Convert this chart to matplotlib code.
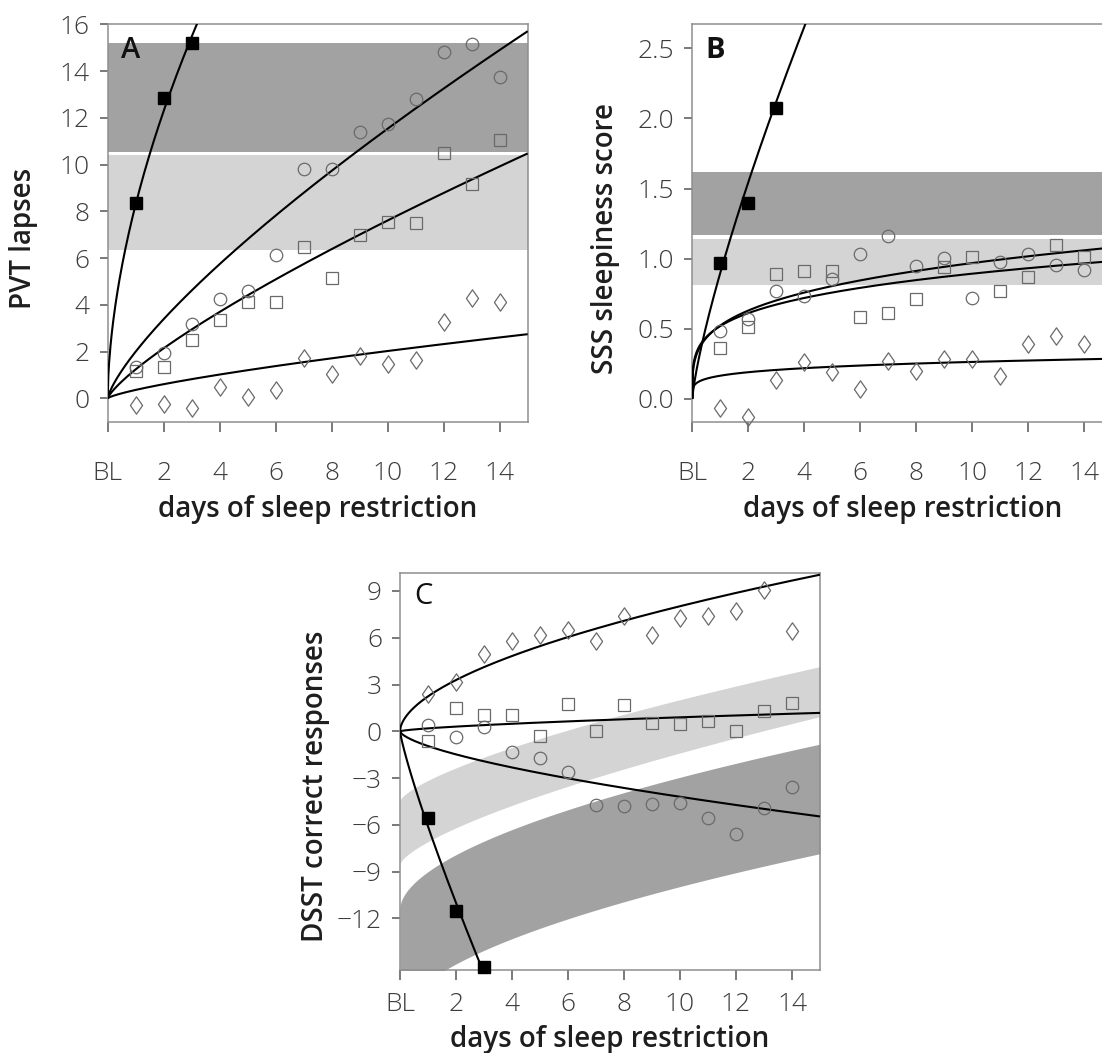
import numpy as np
import matplotlib
matplotlib.use("Agg")
import matplotlib.pyplot as plt
from matplotlib.path import Path

plt.rcParams['font.family'] = ['Open Sans', 'DejaVu Sans']

# ---------------------------------------------------------------- data
days = np.arange(1, 15)          # restriction days 1..14
tsd_days = np.array([1, 2, 3])   # total sleep deprivation days
tick_days = [0, 2, 4, 6, 8, 10, 12, 14]
tick_day_labels = ['BL', '2', '4', '6', '8', '10', '12', '14']

# Panel A: PVT lapses
pvt_4h = [1.35, 1.93, 3.18, 4.25, 4.58, 6.12, 9.80, 9.80, 11.39, 11.75, 12.81, 14.83, 15.17, 13.75]
pvt_6h = [1.17, 1.32, 2.51, 3.35, 4.11, 4.11, 6.48, 5.14, 6.98, 7.55, 7.51, 10.49, 9.17, 11.03]
pvt_8h = [-0.29, -0.26, -0.40, 0.49, 0.07, 0.34, 1.72, 1.06, 1.79, 1.46, 1.65, 3.25, 4.28, 4.14]
pvt_tsd = [8.34, 12.86, 15.2]
# fitted curves y = a * t**b  (4h, 6h, 8h, TSD)
pvt_fit_a = [2.0, 1.24, 0.36, 8.3]
pvt_fit_b = [0.761, 0.788, 0.75, 0.567]
pvt_band_dark = (10.55, 15.2)
pvt_band_light = (6.33, 10.42)
pvt_yticks = [0, 2, 4, 6, 8, 10, 12, 14, 16]

# Panel B: SSS sleepiness
sss_4h = [0.487, 0.57, 0.772, 0.737, 0.855, 1.034, 1.16, 0.946, 1.005, 0.718, 0.974, 1.034, 0.955, 0.92]
sss_6h = [0.361, 0.511, 0.891, 0.915, 0.915, 0.587, 0.613, 0.713, 0.939, 1.015, 0.772, 0.867, 1.098, 1.015]
sss_8h = [-0.064, -0.131, 0.138, 0.261, 0.19, 0.071, 0.273, 0.197, 0.285, 0.285, 0.162, 0.392, 0.447, 0.392]
sss_tsd = [0.97, 1.395, 2.072]
sss_fit_a = [0.524, 0.52, 0.166, 0.90]
sss_fit_b = [0.267, 0.235, 0.202, 0.78]
sss_band_dark = (1.169, 1.616)
sss_band_light = (0.813, 1.141)
sss_yticks = [0.0, 0.5, 1.0, 1.5, 2.0, 2.5]

# Panel C: DSST correct responses
dsst_4h = [0.41, -0.39, 0.26, -1.33, -1.7, -2.61, -4.7, -4.78, -4.63, -4.57, -5.54, -6.59, -4.89, -3.59]
dsst_6h = [-0.61, 1.52, 1.07, 1.07, -0.28, 1.74, 0.0, 1.67, 0.54, 0.48, 0.63, 0.04, 1.3, 1.83]
dsst_8h = [2.39, 3.13, 4.98, 5.76, 6.2, 6.52, 5.8, 7.37, 6.17, 7.26, 7.39, 7.7, 9.07, 6.46]
dsst_tsd = [-5.54, -11.5, -15.13]
dsst_fit_a = [-0.944, 0.19, 2.24, -6.1]
dsst_fit_b = [0.648, 0.675, 0.554, 0.85]
# curved bands: edge = c + k * t**p   (upper edge, lower edge)
dsst_band_light = [(-4.44, 1.29, 0.7), (-8.49, 1.417, 0.7)]
dsst_band_dark = [(-11.3, 2.3, 0.56), (-18.4, 2.38, 0.55)]
dsst_yticks = [-12, -9, -6, -3, 0, 3, 6, 9]

# ---------------------------------------------------------------- style
W, H = 1102, 1053
DARK = '#a2a2a2'
LIGHT = '#d4d4d4'
OPEN = '#6a6a6a'
SPINE = '#8e8e8e'
TICKC = '#3c3c3c'
TICK_FS = 19
LABEL_FS = 20

diamond = Path([(0, 1), (0.7, 0), (0, -1), (-0.7, 0), (0, 1)],
               [Path.MOVETO, Path.LINETO, Path.LINETO, Path.LINETO, Path.CLOSEPOLY])

fig = plt.figure(figsize=(W / 100, H / 100), dpi=100)


def make_axes(left, top, ylim, yticks, yfmt, xpad):
    ax = fig.add_axes([left / W, 1 - (top + 397.4) / H, 420 / W, 397.4 / H])
    ax.set_xlim(0, 15)
    ax.set_ylim(*ylim)
    for s in ax.spines.values():
        s.set_color(SPINE)
        s.set_linewidth(1.1)
    ax.set_xticks(tick_days)
    ax.set_xticklabels(tick_day_labels, fontweight='light')
    ax.set_yticks(yticks)
    ax.set_yticklabels([yfmt(v) for v in yticks], fontweight='light')
    ax.tick_params(axis='x', direction='out', length=7.5, width=1.1, color='#555555',
                   pad=xpad, labelsize=TICK_FS, labelcolor=TICKC)
    ax.tick_params(axis='y', direction='out', length=5.5, width=1.1, color='#555555',
                   pad=7.5, labelsize=TICK_FS, labelcolor=TICKC)
    return ax


def draw_series(ax, sets, fit_a, fit_b, tsd_vals):
    t = np.linspace(0, 15, 600)
    for a, b in zip(fit_a, fit_b):
        ax.plot(t, a * t ** b, color='black', lw=1.5, zorder=3, solid_capstyle='butt')
    v4, v6, v8 = sets
    ax.plot(days, v4, ls='none', marker='o', ms=9, mfc='none', mec=OPEN, mew=0.9,
            zorder=4, clip_on=False)
    ax.plot(days, v6, ls='none', marker='s', ms=8.8, mfc='none', mec=OPEN, mew=0.9,
            zorder=4, clip_on=False)
    ax.plot(days, v8, ls='none', marker=diamond, ms=12.5, mfc='none', mec=OPEN, mew=0.9,
            zorder=4, clip_on=False)
    ax.plot(tsd_days, tsd_vals, ls='none', marker='s', ms=8, mfc='black', mec='black',
            zorder=5, clip_on=False)


# ---------------------------------------------------------------- panel A
axA = make_axes(107.7, 24.3, (-1.0, 16.0), pvt_yticks, lambda v: f'{v:d}', 21)
axA.axhspan(*pvt_band_dark, color=DARK, lw=0, zorder=0)
axA.axhspan(*pvt_band_light, color=LIGHT, lw=0, zorder=0)
draw_series(axA, (pvt_4h, pvt_6h, pvt_8h), pvt_fit_a, pvt_fit_b, pvt_tsd)
axA.text(23.3 / 420, 1 - 25.7 / 397.4, 'A', transform=axA.transAxes, fontsize=21,
         fontweight='semibold', ha='center', va='center', color='#111111')

# ---------------------------------------------------------------- panel B
axB = make_axes(692.3, 24.3, (-0.162, 2.671), sss_yticks, lambda v: f'{v:.1f}', 21)
axB.axhspan(*sss_band_dark, color=DARK, lw=0, zorder=0)
axB.axhspan(*sss_band_light, color=LIGHT, lw=0, zorder=0)
draw_series(axB, (sss_4h, sss_6h, sss_8h), sss_fit_a, sss_fit_b, sss_tsd)
axB.text(23.2 / 420, 1 - 25.7 / 397.4, 'B', transform=axB.transAxes, fontsize=21,
         fontweight='bold', ha='center', va='center', color='#111111')

# ---------------------------------------------------------------- panel C
axC = make_axes(400.0, 572.7, (-15.31, 10.17), dsst_yticks,
                lambda v: f'{v:d}'.replace('-', '\u2212'), 8)
tb = np.linspace(0, 15, 600)
for band, col in ((dsst_band_dark, DARK), (dsst_band_light, LIGHT)):
    (c1, k1, p1), (c2, k2, p2) = band
    axC.fill_between(tb, c2 + k2 * tb ** p2, c1 + k1 * tb ** p1, color=col, lw=0, zorder=0)
draw_series(axC, (dsst_4h, dsst_6h, dsst_8h), dsst_fit_a, dsst_fit_b, dsst_tsd)
axC.text(23.0 / 420, 1 - 23.3 / 397.4, 'C', transform=axC.transAxes, fontsize=21,
         fontweight='normal', ha='center', va='center', color='#111111')

# ---------------------------------------------------------------- axis titles
lab = dict(fontsize=LABEL_FS, fontweight='semibold', color='#1e1e1e', ha='center', va='center')
fig.text(317.7 / W, 1 - 509 / H, 'days of sleep restriction', **lab)
fig.text(902.3 / W, 1 - 509 / H, 'days of sleep restriction', **lab)
fig.text(610.0 / W, 1 - 1039 / H, 'days of sleep restriction', **lab)
fig.text(24 / W, 1 - 238 / H, 'PVT lapses', rotation=90, **lab)
fig.text(606 / W, 1 - 238 / H, 'SSS sleepiness score', rotation=90, **lab)
fig.text(315 / W, 1 - 786 / H, 'DSST correct responses', rotation=90, **lab)

fig.savefig('out.png', dpi=100)
